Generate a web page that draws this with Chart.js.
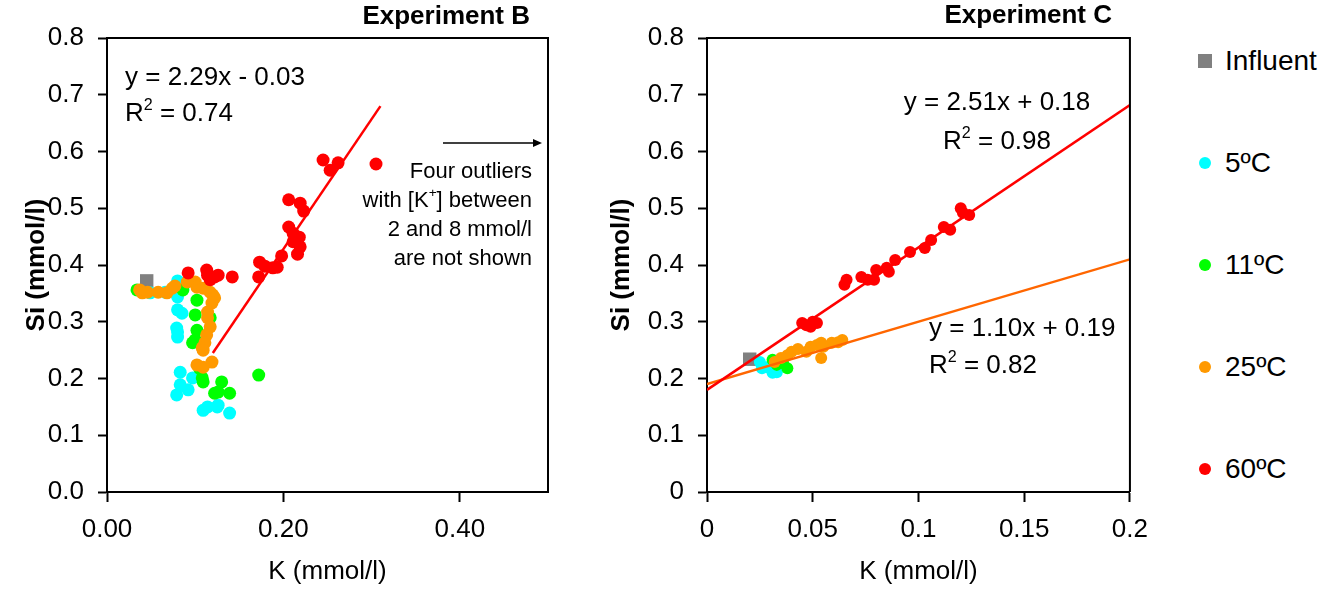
<!DOCTYPE html>
<html><head><meta charset="utf-8">
<script src="https://cdn.jsdelivr.net/npm/chart.js@4"></script>
<style>
html,body{margin:0;padding:0;background:#fff;width:1337px;height:592px;overflow:hidden;font-family:"Liberation Sans",Arial,sans-serif;}
#cB{position:absolute;left:0;top:0;}
#cC{position:absolute;left:590px;top:0;}
.li{position:absolute;left:1225px;font-size:28px;line-height:28px;height:28px;color:#000;white-space:nowrap;}
.mk{position:absolute;}
</style></head><body>
<canvas id="cB" width="580" height="592"></canvas>
<canvas id="cC" width="570" height="592"></canvas>
<div id="legend"></div>
<script>
// ---------- series ----------
const seriesNames  = ['Influent', '5ºC', '11ºC', '25ºC', '60ºC'];
const seriesColors = ['#808080', '#00FFFF', '#00FF00', '#FF9900', '#FF0000'];

// ---------- Experiment B : [K, Si] ----------
const bInfluent = [[0.045, 0.372]];
const b5C = [[0.049,0.351],[0.066,0.352],[0.086,0.358],[0.080,0.372],[0.080,0.344],[0.080,0.321],[0.085,0.315],
  [0.079,0.289],[0.080,0.282],[0.080,0.273],[0.083,0.211],[0.097,0.201],[0.083,0.189],[0.092,0.180],[0.079,0.171],
  [0.109,0.144],[0.114,0.150],[0.125,0.150],[0.126,0.153],[0.139,0.139]];
const b11C = [[0.034,0.356],[0.086,0.356],[0.102,0.338],[0.100,0.312],[0.117,0.307],[0.102,0.285],[0.100,0.268],
  [0.097,0.263],[0.105,0.218],[0.108,0.201],[0.109,0.194],[0.130,0.194],[0.126,0.176],[0.122,0.174],[0.139,0.174],
  [0.172,0.206]];
const b25C = [[0.037,0.356],[0.040,0.351],[0.046,0.352],[0.058,0.352],[0.068,0.351],[0.074,0.359],[0.077,0.363],
  [0.091,0.370],[0.100,0.370],[0.102,0.361],[0.109,0.359],[0.117,0.352],[0.120,0.347],[0.122,0.342],[0.119,0.333],
  [0.114,0.317],[0.114,0.307],[0.117,0.291],[0.113,0.277],[0.111,0.263],[0.108,0.254],[0.109,0.250],
  [0.102,0.224],[0.109,0.220],[0.119,0.229]];
const b60C = [[0.092,0.386],[0.113,0.391],[0.114,0.382],[0.117,0.374],[0.122,0.379],[0.126,0.382],[0.142,0.379],
  [0.172,0.379],[0.173,0.405],[0.179,0.398],[0.188,0.395],[0.193,0.396],[0.198,0.416],[0.206,0.467],[0.211,0.456],
  [0.218,0.449],[0.211,0.441],[0.219,0.432],[0.216,0.419],[0.206,0.515],[0.219,0.509],[0.223,0.495],
  [0.245,0.585],[0.253,0.567],[0.262,0.580],[0.305,0.578]];
// trend line 60ºC (y = 2.29x - 0.03)
const bTrendSlope = 2.29, bTrendIntercept = -0.03, bTrendRange = [0.12, 0.31];

// ---------- Experiment C : [K, Si] ----------
const cInfluent = [[0.0202, 0.234]];
const c5C = [[0.025,0.229],[0.026,0.218],[0.031,0.210],[0.033,0.211],[0.028,0.220]];
const c11C = [[0.031,0.233],[0.033,0.224],[0.038,0.218],[0.036,0.227]];
const c25C = [[0.032,0.229],[0.035,0.236],[0.038,0.241],[0.040,0.247],[0.043,0.252],[0.047,0.247],[0.049,0.256],
  [0.052,0.259],[0.054,0.263],[0.055,0.256],[0.059,0.263],[0.062,0.264],[0.064,0.268],[0.054,0.236]];
const c60C = [[0.045,0.298],[0.047,0.294],[0.049,0.291],[0.052,0.298],[0.050,0.300],
  [0.065,0.365],[0.066,0.374],[0.073,0.379],[0.076,0.374],[0.079,0.374],[0.080,0.391],[0.085,0.395],[0.086,0.388],
  [0.089,0.409],[0.096,0.423],[0.103,0.430],[0.106,0.444],[0.112,0.467],[0.115,0.462],[0.120,0.500],[0.121,0.492],
  [0.124,0.488]];
// trend lines (60ºC: y = 2.51x + 0.18, 25ºC: y = 1.10x + 0.19)
const cTrend60Slope = 2.51, cTrend60Intercept = 0.18;
const cTrend25Slope = 1.10, cTrend25Intercept = 0.19;
const cTrendRange = [0, 0.2];

// ---------- ticks ----------
const bXTicks = [0, 0.2, 0.4];            const bXLabels = ['0.00', '0.20', '0.40'];
const bYTicks = [0,0.1,0.2,0.3,0.4,0.5,0.6,0.7,0.8];
const bYLabels = ['0.0','0.1','0.2','0.3','0.4','0.5','0.6','0.7','0.8'];
const cXTicks = [0, 0.05, 0.1, 0.15, 0.2]; const cXLabels = ['0', '0.05', '0.1', '0.15', '0.2'];
const cYTicks = [0,0.1,0.2,0.3,0.4,0.5,0.6,0.7,0.8];
const cYLabels = ['0','0.1','0.2','0.3','0.4','0.5','0.6','0.7','0.8'];

const FONT = '"Liberation Sans", Arial, sans-serif';
const toPts = arr => arr.map(p => ({x: p[0], y: p[1]}));
const trend = (m, b, r) => r.map(x => ({x: x, y: m * x + b}));

function scatterSet(i, data, order, r) {
  return {
    type: 'scatter', label: seriesNames[i], data: toPts(data), order: order,
    backgroundColor: seriesColors[i], borderWidth: 0, borderColor: seriesColors[i],
    pointStyle: i === 0 ? 'rect' : 'circle', pointRadius: i === 0 ? 9.5 : r, pointHoverRadius: i === 0 ? 9.5 : r
  };
}
function lineSet(data, color) {
  return { type: 'line', data: data, order: 0, showLine: true, borderColor: color, borderWidth: 2.5,
    pointRadius: 0, fill: false, tension: 0 };
}

// draws text runs (with superscripts)
function drawRuns(ctx, runs, x, y, size, align, bold) {
  const f = s => (bold ? 'bold ' : '') + s + 'px ' + FONT;
  let w = 0;
  runs.forEach(r => { ctx.font = f(r.sup ? size * 0.62 : size); w += ctx.measureText(r.t).width; });
  let cx = align === 'right' ? x - w : align === 'center' ? x - w / 2 : x;
  ctx.textAlign = 'left'; ctx.textBaseline = 'middle'; ctx.fillStyle = '#000';
  runs.forEach(r => {
    const s = r.sup ? size * 0.62 : size;
    ctx.font = f(s);
    ctx.fillText(r.t, cx, r.sup ? y - size * 0.33 : y);
    cx += ctx.measureText(r.t).width;
  });
}

const deco = {
  id: 'deco',
  afterDraw(chart, args, opts) {
    const {ctx, chartArea: a} = chart;
    ctx.save();
    ctx.strokeStyle = '#000'; ctx.lineWidth = 2;
    ctx.beginPath(); ctx.moveTo(a.left, a.top); ctx.lineTo(a.right, a.top); ctx.lineTo(a.right, a.bottom); ctx.stroke();
    const ox = opts.offsetX || 0;
    (opts.texts || []).forEach(t => drawRuns(ctx, t.runs, t.x - ox, t.y, t.size, t.align, t.bold));
    if (opts.arrow) {
      const ar = opts.arrow;
      ctx.strokeStyle = '#000'; ctx.lineWidth = 1.5;
      ctx.beginPath(); ctx.moveTo(ar.x1 - ox, ar.y); ctx.lineTo(ar.x2 - ox - 6, ar.y); ctx.stroke();
      ctx.fillStyle = '#000';
      ctx.beginPath(); ctx.moveTo(ar.x2 - ox, ar.y); ctx.lineTo(ar.x2 - ox - 9, ar.y - 4); ctx.lineTo(ar.x2 - ox - 9, ar.y + 4); ctx.closePath(); ctx.fill();
    }
    ctx.restore();
  }
};

function axisCommon() {
  return {
    border: {display: true, color: '#000', width: 2},
    grid: {drawOnChartArea: false, drawTicks: true, color: '#000', tickColor: '#000', tickWidth: 2},
  };
}

function makeOptions(cfg) {
  return {
    responsive: false, animation: false, devicePixelRatio: 1,
    layout: {padding: {top: 38, right: cfg.padRight, bottom: 0, left: 0}},
    plugins: {legend: {display: false}, tooltip: {enabled: false}, title: {display: false}, deco: cfg.deco},
    scales: {
      x: Object.assign(axisCommon(), {
        type: 'linear', position: 'bottom', min: cfg.xMin, max: cfg.xMax,
        grid: {drawOnChartArea: false, drawTicks: true, tickLength: 10, tickColor: '#000', tickWidth: 2},
        afterBuildTicks: s => { s.ticks = cfg.xTicks.map(v => ({value: v})); },
        afterFit: s => { s.height = 100; },
        ticks: {autoSkip: false, maxRotation: 0, padding: 12, color: '#000', font: {family: FONT, size: 26},
          callback: (v, i) => cfg.xLabels[i]},
        title: {display: true, text: 'K (mmol/l)', color: '#000', font: {family: FONT, size: 26}, padding: {top: 0, bottom: 5}}
      }),
      y: Object.assign(axisCommon(), {
        type: 'linear', position: 'left', min: 0, max: 0.8,
        grid: {drawOnChartArea: false, drawTicks: true, tickLength: 9, tickColor: '#000', tickWidth: 2},
        afterBuildTicks: s => { s.ticks = cfg.yTicks.map(v => ({value: v})); },
        afterFit: s => { s.width = cfg.yWidth; },
        ticks: {autoSkip: false, padding: 14, color: '#000', font: {family: FONT, size: 26},
          callback: (v, i) => cfg.yLabels[i]},
        title: {display: true, text: 'Si (mmol/l)', color: '#000', font: {family: FONT, size: 26, weight: 'bold'},
          padding: {top: cfg.yTitlePad, bottom: 0}}
      })
    }
  };
}

new Chart(document.getElementById('cB'), {
  data: {datasets: [
    lineSet(trend(bTrendSlope, bTrendIntercept, bTrendRange), '#FF0000'),
    scatterSet(4, b60C, 1, 6.5),
    scatterSet(3, b25C, 2, 6.5),
    scatterSet(2, b11C, 3, 6.5),
    scatterSet(1, b5C, 4, 6.5),
    scatterSet(0, bInfluent, 5, 6.5)
  ]},
  options: makeOptions({
    xMin: 0, xMax: 0.5, xTicks: bXTicks, xLabels: bXLabels, yTicks: bYTicks, yLabels: bYLabels,
    yWidth: 107, padRight: 32, yTitlePad: 21,
    deco: {
      offsetX: 0,
      texts: [
        {runs: [{t: 'Experiment B'}], x: 530, y: 17, size: 26, align: 'right', bold: true},
        {runs: [{t: 'y = 2.29x - 0.03'}], x: 125, y: 78, size: 26, align: 'left'},
        {runs: [{t: 'R'}, {t: '2', sup: true}, {t: ' = 0.74'}], x: 125, y: 114, size: 26, align: 'left'},
        {runs: [{t: 'Four outliers'}], x: 532, y: 172, size: 22, align: 'right'},
        {runs: [{t: 'with [K'}, {t: '+', sup: true}, {t: '] between'}], x: 532, y: 201, size: 22, align: 'right'},
        {runs: [{t: '2 and 8 mmol/l'}], x: 532, y: 230, size: 22, align: 'right'},
        {runs: [{t: 'are not shown'}], x: 532, y: 259, size: 22, align: 'right'}
      ],
      arrow: {x1: 443, x2: 542, y: 143}
    }
  }),
  plugins: [deco]
});

new Chart(document.getElementById('cC'), {
  data: {datasets: [
    lineSet(trend(cTrend60Slope, cTrend60Intercept, cTrendRange), '#FF0000'),
    lineSet(trend(cTrend25Slope, cTrend25Intercept, cTrendRange), '#FF6600'),
    scatterSet(4, c60C, 1, 6),
    scatterSet(3, c25C, 2, 6),
    scatterSet(2, c11C, 3, 6),
    scatterSet(1, c5C, 4, 6),
    scatterSet(0, cInfluent, 5, 6)
  ]},
  options: makeOptions({
    xMin: 0, xMax: 0.2, xTicks: cXTicks, xLabels: cXLabels, yTicks: cYTicks, yLabels: cYLabels,
    yWidth: 117, padRight: 27, yTitlePad: 16,
    deco: {
      offsetX: 590,
      texts: [
        {runs: [{t: 'Experiment C'}], x: 1112, y: 16, size: 26, align: 'right', bold: true},
        {runs: [{t: 'y = 2.51x + 0.18'}], x: 997, y: 103, size: 26, align: 'center'},
        {runs: [{t: 'R'}, {t: '2', sup: true}, {t: ' = 0.98'}], x: 997, y: 142, size: 26, align: 'center'},
        {runs: [{t: 'y = 1.10x + 0.19'}], x: 929, y: 329, size: 26, align: 'left'},
        {runs: [{t: 'R'}, {t: '2', sup: true}, {t: ' = 0.82'}], x: 929, y: 366, size: 26, align: 'left'}
      ]
    }
  }),
  plugins: [deco]
});

// ---------- legend (HTML) ----------
const legendY = [61, 163, 265, 367, 469];
const lg = document.getElementById('legend');
seriesNames.forEach((n, i) => {
  const m = document.createElement('div');
  m.className = 'mk';
  const s = i === 0 ? 14 : 12;
  m.style.cssText = `left:${1205 - s/2}px;top:${legendY[i] - s/2}px;width:${s}px;height:${s}px;background:${seriesColors[i]};` +
    (i === 0 ? '' : 'border-radius:50%;');
  lg.appendChild(m);
  const t = document.createElement('div');
  t.className = 'li';
  t.style.top = (legendY[i] - 14) + 'px';
  t.textContent = n;
  lg.appendChild(t);
});
</script>
</body></html>
